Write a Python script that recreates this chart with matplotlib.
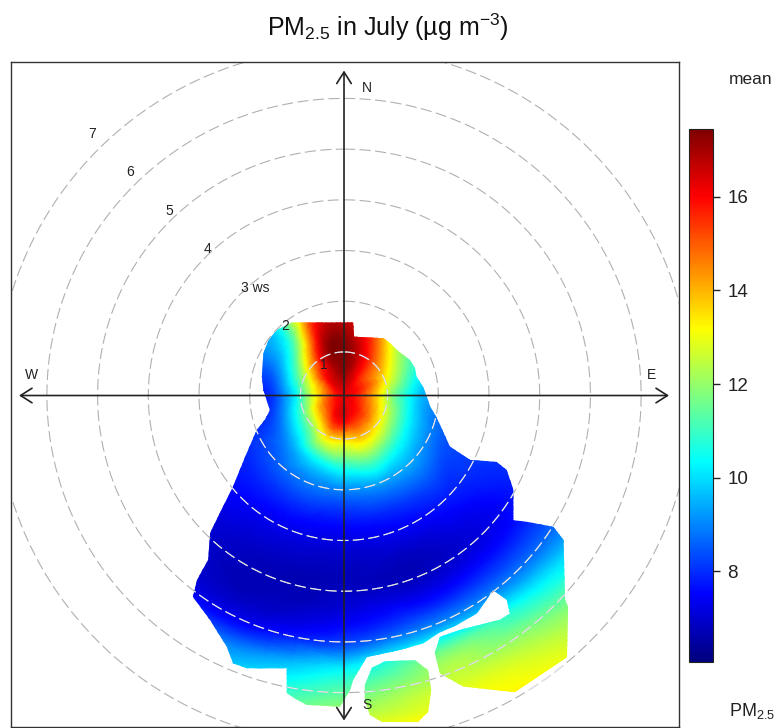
import numpy as np
import matplotlib
matplotlib.use("Agg")
import matplotlib.pyplot as plt
import matplotlib.tri as mtri
from matplotlib.colors import LinearSegmentedColormap, Normalize
from matplotlib.path import Path
import matplotlib.colorbar as mcolorbar

plt.rcParams['font.family'] = ['Liberation Sans', 'DejaVu Sans']
plt.rcParams['mathtext.fontset'] = 'custom'
plt.rcParams['mathtext.rm'] = 'Liberation Sans'
plt.rcParams['mathtext.it'] = 'Liberation Sans:italic'
plt.rcParams['mathtext.bf'] = 'Liberation Sans:bold'

# ---------------- data ----------------
# wind direction nodes (deg, clockwise from N) and wind-speed nodes (m/s)
wd_deg = [0, 22.5, 45, 67.5, 90, 112.5, 135, 157.5,
          180, 202.5, 225, 247.5, 270, 292.5, 315, 337.5]
ws_nodes = [0.6, 1.1, 1.6, 2.2, 3, 4, 5, 5.6, 6.3, 7]
ws_origin = 0.14          # wind speed at the plot centre
pm25_centre = 16.3

# mean PM2.5 surface values, one row per direction, one column per ws node
pm25_N   = [17.2, 17.4, 16.8, 16.0, 15.0, 14.0, 13.0, 12.5, 12.0, 12.0]
pm25_NNE = [16.5, 16.3, 15.3, 14.0, 13.0, 12.0, 12.0, 12.0, 12.0, 12.0]
pm25_NE  = [15.5, 14.5, 12.5, 11.0, 10.0, 10.0, 10.0, 10.0, 10.0, 10.0]
pm25_ENE = [15.3, 13.0, 11.0, 9.5, 9.0, 9.0, 9.0, 9.0, 9.0, 9.0]
pm25_E   = [14.8, 11.8, 9.8, 8.8, 8.5, 8.5, 8.5, 8.8, 9.0, 9.0]
pm25_ESE = [15.0, 12.3, 10.0, 8.6, 8.2, 8.0, 8.6, 9.3, 10.2, 11.0]
pm25_SE  = [15.5, 13.0, 10.5, 9.0, 7.8, 7.2, 8.8, 10.5, 12.0, 12.8]
pm25_SSE = [15.8, 13.5, 11.0, 8.8, 7.4, 6.8, 9.0, 11.8, 12.8, 13.5]
pm25_S   = [16.3, 13.0, 10.5, 8.5, 7.2, 6.8, 8.2, 10.5, 12.0, 13.5]
pm25_SSW = [16.0, 13.0, 10.0, 8.5, 7.3, 6.7, 7.4, 9.2, 10.5, 12.0]
pm25_SW  = [15.0, 11.5, 9.3, 8.3, 7.5, 7.0, 7.3, 8.5, 9.5, 10.0]
pm25_WSW = [14.5, 10.8, 8.5, 8.0, 8.0, 8.0, 8.0, 8.0, 8.0, 8.0]
pm25_W   = [14.0, 10.3, 8.0, 7.8, 8.0, 8.0, 8.0, 8.0, 8.0, 8.0]
pm25_WNW = [14.5, 11.5, 9.0, 8.8, 9.0, 9.0, 9.0, 9.0, 9.0, 9.0]
pm25_NW  = [16.0, 14.0, 11.0, 10.0, 10.0, 10.0, 10.0, 10.0, 10.0, 10.0]
pm25_NNW = [16.8, 17.0, 16.0, 15.0, 14.0, 13.0, 12.0, 12.0, 12.0, 12.0]

# extent of data coverage (east / north components, in radial plot units)
cover_u = [-1.03, 0.18, 0.20, 0.78, 0.91, 1.04, 1.30, 1.40, 1.43, 1.56, 1.63, 1.70,
           1.83, 2.09, 2.49, 3.01, 3.21, 3.34, 3.34, 3.60, 4.13, 4.33, 4.36, 4.42,
           4.39, 4.13, 3.54, 2.35, 1.89, 1.79, 1.89, 2.29, 3.08, 3.27, 3.21, 2.94,
           2.81, 2.62, 2.22, 1.86, 1.56, 1.10, 0.45, 0.18, 0.12, -0.08, -0.74, -0.93,
           -1.13, -1.13, -1.92, -2.19, -2.31, -2.64, -2.98, -2.90, -2.68, -2.64, -2.45,
           -2.19, -1.95, -1.72, -1.56, -1.46, -1.59, -1.62, -1.59, -1.49, -1.33]
cover_v = [1.44, 1.44, 1.16, 1.13, 1.03, 0.90, 0.70, 0.54, 0.37, 0.17, -0.02, -0.22,
           -0.44, -1.01, -1.27, -1.31, -1.47, -1.86, -2.46, -2.49, -2.59, -2.85, -4.03, -4.17,
           -5.48, -5.74, -5.87, -5.74, -5.48, -5.08, -4.76, -4.62, -4.42, -4.30, -4.03, -3.84,
           -4.03, -4.30, -4.53, -4.69, -4.89, -5.02, -5.16, -5.61, -5.81, -6.14, -6.10, -6.00,
           -5.87, -5.38, -5.38, -5.28, -4.96, -4.43, -3.97, -3.64, -3.24, -2.71, -2.32,
           -1.80, -1.21, -0.68, -0.48, -0.29, 0.11, 0.37, 0.83, 1.09, 1.29]
blob_u = [0.41, 0.55, 0.81, 1.40, 1.66, 1.72, 1.66, 1.46, 0.75, 0.51, 0.41]
blob_v = [-5.71, -5.37, -5.24, -5.22, -5.42, -5.81, -6.24, -6.44, -6.44, -6.30, -6.01]

ring_ws = [1, 2, 3, 4, 5, 6, 7]
ring_labels = ["1", "2", "3 ws", "4", "5", "6", "7"]
cbar_ticks = [8, 10, 12, 14, 16]
cbar_min, cbar_max = 6.07, 17.45

jet_colors = ["#00007F", "#0000FF", "#007FFF", "#00FFFF", "#7FFF7F",
              "#FFFF00", "#FF7F00", "#FF0000", "#7F0000"]

# ---------------- figure ----------------
W, H = 777, 728
fig = plt.figure(figsize=(W / 100, H / 100), dpi=100)
ax = fig.add_axes([11 / W, 1 / H, 668 / W, 665 / H])
ax.set_xlim(-6.568, 6.607)
ax.set_ylim(-6.538, 6.578)
ax.set_xticks([])
ax.set_yticks([])
for sp in ax.spines.values():
    sp.set_linewidth(1.0)
    sp.set_color('#333333')

cmap = LinearSegmentedColormap.from_list("openair_jet", jet_colors, N=256)
norm = Normalize(vmin=cbar_min, vmax=cbar_max)

rows = [pm25_N, pm25_NNE, pm25_NE, pm25_ENE, pm25_E, pm25_ESE, pm25_SE, pm25_SSE,
        pm25_S, pm25_SSW, pm25_SW, pm25_WSW, pm25_W, pm25_WNW, pm25_NW, pm25_NNW]
theta = np.deg2rad(np.array(wd_deg))
rho = np.array(ws_nodes) - ws_origin
TH, R = np.meshgrid(theta, rho, indexing='ij')
px = np.r_[0.0, (R * np.sin(TH)).ravel()]
py = np.r_[0.0, (R * np.cos(TH)).ravel()]
pz = np.r_[pm25_centre, np.array(rows).ravel()]

tri = mtri.Triangulation(px, py)
interp = mtri.CubicTriInterpolator(tri, pz, kind='geom')
refiner = mtri.UniformTriRefiner(tri)
tri_f, z_f = refiner.refine_field(pz, interp, subdiv=3)
surf = ax.tripcolor(tri_f, z_f, shading='gouraud', cmap=cmap, norm=norm, zorder=1)

main_xy = np.column_stack([cover_u, cover_v])
blob_xy = np.column_stack([blob_u, blob_v])
clip = Path.make_compound_path(
    Path(np.vstack([main_xy, main_xy[:1]]), closed=True),
    Path(np.vstack([blob_xy, blob_xy[:1]]), closed=True))
surf.set_clip_path(clip, ax.transData)

# rings
t = np.linspace(0, 2 * np.pi, 400)
for ws in ring_ws:
    r = ws - ws_origin
    ax.plot(r * np.sin(t), r * np.cos(t), color='#b0b0b0', lw=0.8,
            dashes=(10, 4), zorder=2)
    ln, = ax.plot(r * np.sin(t), r * np.cos(t), color='#e8e8f0', lw=0.8,
                  dashes=(10, 4), zorder=3)
    ln.set_clip_path(clip, ax.transData)

# ring labels along NW diagonal
for ws, lab in zip(ring_ws, ring_labels):
    u = (-38.6 * ws + 18) / 50.7
    v = (38.5 * ws - 7.5) / 50.7
    if lab.endswith("ws"):
        ax.text(u - 0.1, v, lab, ha='left', va='center', fontsize=10,
                color='#222222', zorder=5)
    else:
        ax.text(u, v, lab, ha='center', va='center', fontsize=10,
                color='#222222', zorder=5)

# axes arrows
arr = dict(arrowstyle='<->,head_length=0.55,head_width=0.35', lw=1.2,
           color='#222222', shrinkA=0, shrinkB=0, mutation_scale=15)
L = 6.41
ax.annotate('', xy=(0, L), xytext=(0, -L), arrowprops=arr, zorder=6)
ax.annotate('', xy=(L, 0), xytext=(-L, 0), arrowprops=arr, zorder=6)

for lab, (u, v) in zip(["N", "E", "S", "W"],
                       [(0.45, 6.07), (6.07, 0.40), (0.45, -6.10), (-6.16, 0.40)]):
    ax.text(u, v, lab, ha='center', va='center', fontsize=10, color='#222222', zorder=6)

# colour bar
cax = fig.add_axes([689.3 / W, 1 - 661.7 / H, 24 / W, 532.7 / H])
cb = mcolorbar.ColorbarBase(cax, cmap=cmap, norm=norm, ticks=cbar_ticks,
                            orientation='vertical')
cb.outline.set_linewidth(0.8)
cb.outline.set_edgecolor('#222222')
cax.tick_params(axis='y', length=5, width=1, pad=5, labelsize=13.5,
                colors='#222222', right=True, labelright=True)

fig.text(751 / W, 1 - 79 / H, "mean", ha='center', va='center', fontsize=12.5,
         color='#222222')
fig.text(752 / W, 1 - 711 / H, "PM$_{2.5}$", ha='center', va='center',
         fontsize=13, color='#222222')
fig.text(388 / W, 1 - 27 / H, "PM$_{2.5}$ in July (\u00b5g m$^{-3}$)",
         ha='center', va='center', fontsize=18, color='#111111')

fig.savefig("out.png", dpi=100)
